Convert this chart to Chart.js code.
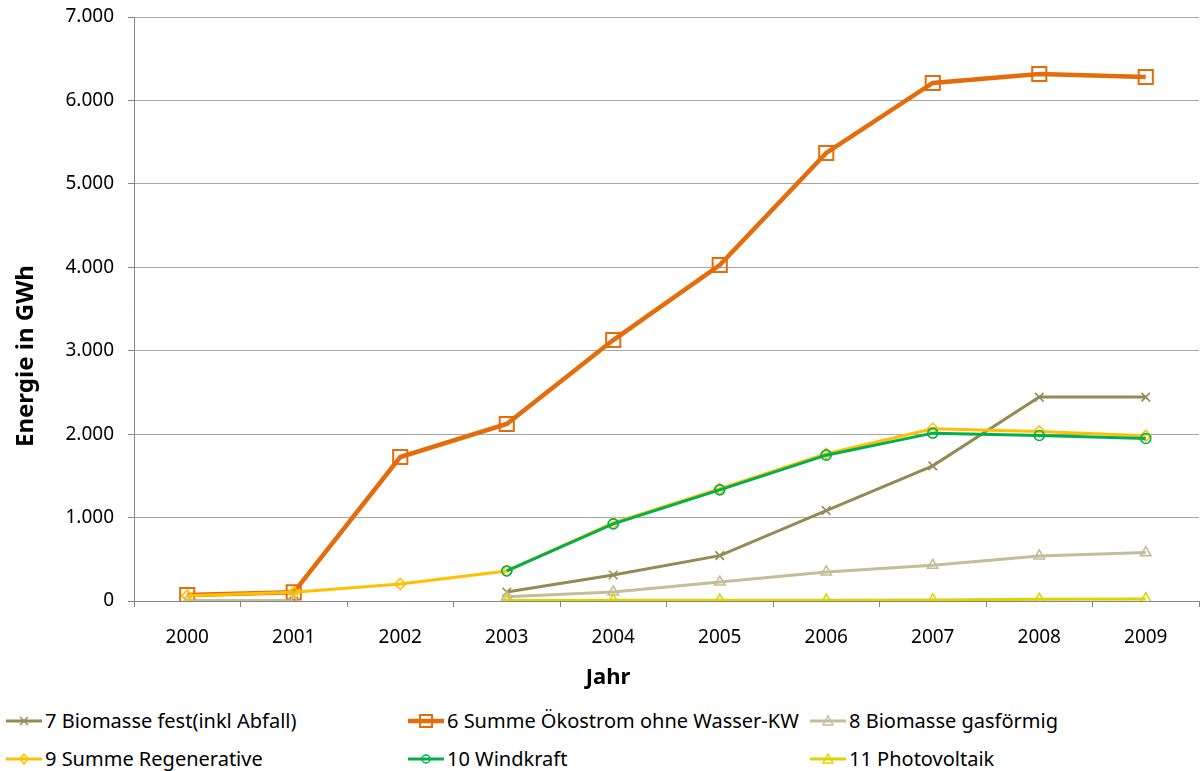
<!DOCTYPE html>
<html>
<head>
<meta charset="utf-8">
<script src="https://cdn.jsdelivr.net/npm/chart.js@4/dist/chart.umd.min.js"></script>
<style>
  body { margin: 0; background: #fff; font-family: "Noto Sans", sans-serif; }
  #wrap { position: relative; width: 1200px; height: 771px; }
  #chartBox { position: absolute; left: 0; top: 0; width: 1200px; height: 700px; }
  #legend { position: absolute; left: 0; top: 707px; width: 1200px; height: 64px; }
  .item { position: absolute; display: flex; align-items: center; font-size: 20px; color: #000; white-space: nowrap; }
  .item svg { margin-right: 3px; }
  .achsentitel { position: absolute; font-weight: bold; color: #000; white-space: nowrap; line-height: 1; }
  #titelX { left: 608px; top: 675px; font-size: 22px; transform: translate(-50%, -50%); }
  #titelY { left: 24px; top: 356px; font-size: 24px; transform: translate(-50%, -50%) rotate(-90deg); }
</style>
</head>
<body>
<div id="wrap">
  <div id="chartBox"><canvas id="myChart"></canvas></div>
  <div class="achsentitel" id="titelY">Energie in GWh</div>
  <div class="achsentitel" id="titelX">Jahr</div>
  <div id="legend"></div>
</div>
<script>
// Daten
const jahre = ['2000', '2001', '2002', '2003', '2004', '2005', '2006', '2007', '2008', '2009'];
const biomasseFest = [0, 0, null, 108, 312, 544, 1084, 1620, 2444, 2444];
const summeOekostrom = [72, 104, 1726, 2122, 3128, 4027, 5370, 6209, 6317, 6281];
const biomasseGas = [0, 0, null, 50, 108, 228, 348, 428, 540, 580];
const summeRegenerative = [64, 104, 204, 360, 935, 1345, 1765, 2064, 2032, 1980];
const windkraft = [null, null, null, 360, 924, 1332, 1748, 2012, 1984, 1948];
const photovoltaik = [null, null, null, 5, 8, 10, 10, 12, 20, 25];
const yTicks = [0, 1000, 2000, 3000, 4000, 5000, 6000, 7000];

const achsenFarbe = '#868686';

function serie(label, data, farbe, breite, punkt, radius, reihenfolge) {
    return {
        label: label,
        data: data,
        borderColor: farbe,
        borderWidth: breite,
        pointStyle: punkt,
        pointRadius: radius,
        pointHoverRadius: radius,
        pointBorderColor: farbe,
        pointBackgroundColor: 'rgba(0,0,0,0)',
        pointBorderWidth: punkt === 'rect' ? 2 : 1.6,
        spanGaps: false,
        tension: 0,
        order: reihenfolge
    };
}

const datasets = [
    serie('7 Biomasse fest(inkl Abfall)', biomasseFest, '#948A54', 3, 'crossRot', 6, 6),
    serie('6 Summe Ökostrom ohne Wasser-KW', summeOekostrom, '#E46C0A', 4.5, 'rect', 10, 5),
    serie('8 Biomasse gasförmig', biomasseGas, '#C4BD97', 3, 'triangle', 6, 4),
    serie('9 Summe Regenerative', summeRegenerative, '#FFC000', 3, 'rectRot', 5.5, 3),
    serie('10 Windkraft', windkraft, '#00B050', 3, 'circle', 5, 2),
    serie('11 Photovoltaik', photovoltaik, '#DDD400', 3, 'triangle', 6, 1)
];

const ctx = document.getElementById('myChart');
const chart = new Chart(ctx, {
    type: 'line',
    data: { labels: jahre, datasets: datasets },
    options: {
        responsive: true,
        maintainAspectRatio: false,
        animation: false,
        layout: { autoPadding: false, padding: { left: 0, right: 1, top: 17, bottom: 0 } },
        plugins: { legend: { display: false }, tooltip: { enabled: false } },
        scales: {
            x: {
                offset: true,
                grid: { offset: true, drawOnChartArea: false, drawTicks: true, tickLength: 6, color: achsenFarbe },
                border: { display: true, color: achsenFarbe, width: 1 },
                ticks: { color: '#000', font: { family: 'Noto Sans', size: 19 }, padding: 19, maxRotation: 0 },
                afterFit: function(scale) {
                    scale.height = 99;
                    scale.paddingLeft = 0;
                    scale.paddingRight = 0;
                }
            },
            y: {
                min: 0,
                max: 7000,
                afterBuildTicks: function(scale) { scale.ticks = yTicks.map(v => ({ value: v })); },
                grid: { color: '#A6A6A6', tickColor: achsenFarbe, tickLength: 6, drawTicks: true },
                border: { display: true, color: achsenFarbe, width: 1 },
                ticks: {
                    color: '#000',
                    font: { family: 'Noto Sans', size: 19 },
                    padding: 14,
                    callback: function(v) { return v.toLocaleString('de-DE'); }
                },
                afterFit: function(scale) {
                    scale.width = 134;
                    scale.paddingTop = 0;
                    scale.paddingBottom = 0;
                }
            }
        }
    }
});

// Legende als HTML
const legendePos = [
    { x: 6, y: 0 }, { x: 408, y: 0 }, { x: 810, y: 0 },
    { x: 6, y: 38 }, { x: 408, y: 38 }, { x: 810, y: 38 }
];

function symbol(ds) {
    const f = ds.borderColor;
    const w = ds.borderWidth;
    let m = '';
    const cx = 18, cy = 9;
    if (ds.pointStyle === 'rect') m = `<rect x="${cx-6}" y="${cy-6}" width="12" height="12" fill="none" stroke="${f}" stroke-width="2"/>`;
    if (ds.pointStyle === 'crossRot') m = `<path d="M${cx-4} ${cy-4}L${cx+4} ${cy+4}M${cx-4} ${cy+4}L${cx+4} ${cy-4}" stroke="${f}" stroke-width="1.5"/>`;
    if (ds.pointStyle === 'triangle') m = `<path d="M${cx} ${cy-5}L${cx+5} ${cy+4}L${cx-5} ${cy+4}Z" fill="none" stroke="${f}" stroke-width="1.5"/>`;
    if (ds.pointStyle === 'rectRot') m = `<path d="M${cx} ${cy-5}L${cx+4} ${cy}L${cx} ${cy+5}L${cx-4} ${cy}Z" fill="none" stroke="${f}" stroke-width="1.5"/>`;
    if (ds.pointStyle === 'circle') m = `<circle cx="${cx}" cy="${cy}" r="4" fill="none" stroke="${f}" stroke-width="1.5"/>`;
    return `<svg width="36" height="18"><line x1="0" y1="${cy}" x2="36" y2="${cy}" stroke="${f}" stroke-width="${w}"/>${m}</svg>`;
}

const legende = document.getElementById('legend');
datasets.forEach(function(ds, i) {
    const el = document.createElement('div');
    el.className = 'item';
    el.style.left = legendePos[i].x + 'px';
    el.style.top = legendePos[i].y + 'px';
    el.innerHTML = symbol(ds) + '<span>' + ds.label + '</span>';
    legende.appendChild(el);
});
</script>
</body>
</html>
